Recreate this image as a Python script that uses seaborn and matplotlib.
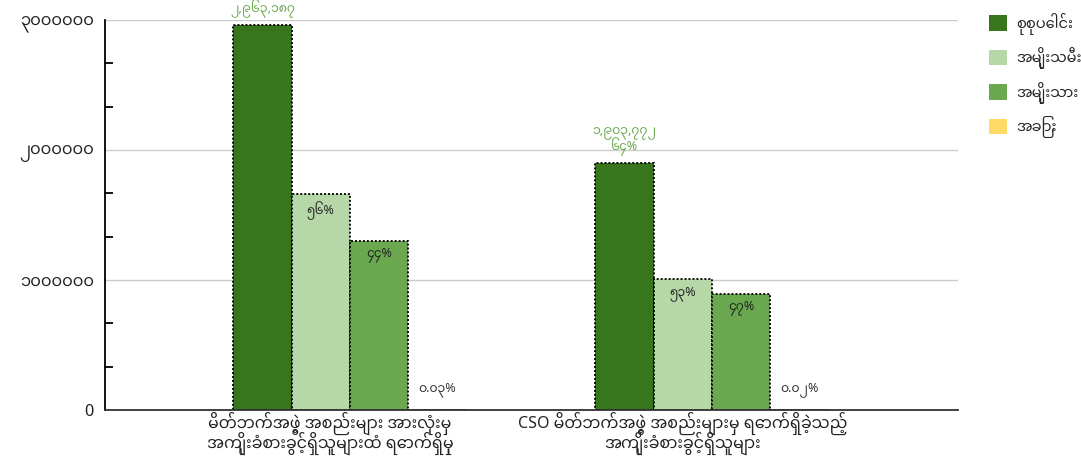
import matplotlib
matplotlib.use("Agg")
import matplotlib.pyplot as plt
import seaborn as sns
import pandas as pd
from matplotlib.ticker import MultipleLocator
from matplotlib.patches import Patch

categories = ["မိတ်ဘက်အဖွဲ့ အစည်းများ အားလုံးမှ\nအကျိုးခံစားခွင့်ရှိသူများထံ ရောက်ရှိမှု",
              "CSO မိတ်ဘက်အဖွဲ့ အစည်းများမှ ရောက်ရှိခဲ့သည့်\nအကျိုးခံစားခွင့်ရှိသူများ"]
series = ["စုစုပေါင်း", "အမျိုးသမီး", "အမျိုးသား", "အခြား"]
total = [2963187, 1903772]
women = [1658900, 1008700]
men = [1303400, 894700]
other = [887, 372]
total_labels = ["၂,၉၆၃,၁၈၇", "၁,၉၀၃,၇၇၂\n၆၄%"]
women_labels = ["၅၆%", "၅၃%"]
men_labels = ["၄၄%", "၄၇%"]
other_labels = ["၀.၀၃%", "၀.၀၂%"]
ytick_values = [0, 1000000, 2000000, 3000000]
ytick_labels = ["0", "၁၀၀၀၀၀၀", "၂၀၀၀၀၀၀", "၃၀၀၀၀၀၀"]
colors = ["#38761d", "#b6d7a8", "#6aa84f", "#ffd966"]

sns.set_theme(style="white")
plt.rcParams["font.family"] = ["Noto Sans Myanmar", "Noto Sans", "DejaVu Sans"]

rows = []
for i, c in enumerate(categories):
    for s, v in zip(series, [total[i], women[i], men[i], other[i]]):
        rows.append({"cat": c, "series": s, "value": v})
df = pd.DataFrame(rows)

fig = plt.figure(figsize=(10.81, 4.72), dpi=100)
ax = fig.add_axes([105/1081, 1-410/472, (958-105)/1081, (410-20)/472])
sns.barplot(data=df, x="cat", y="value", hue="series", palette=colors, width=0.645,
            saturation=1, ax=ax, legend=False, edgecolor="black", linewidth=1.3,
            linestyle=(0, (1.1, 1.1)))
ax.set_xlim(-0.677, 1.68)
ax.set_ylim(0, 3000000)
ax.set_yticks(ytick_values)
ax.set_yticklabels(ytick_labels, fontsize=11.8, color="#222222")
ax.yaxis.set_minor_locator(MultipleLocator(1000000/3))
ax.tick_params(axis="y", which="major", direction="in", length=12, width=1.3, color="black", pad=8)
ax.tick_params(axis="y", which="minor", direction="in", length=6, width=1.3, color="black", left=True)
ax.set_xticks([-0.055, 0.92], labels=categories)
ax.tick_params(axis="x", length=0, labelsize=11.5, labelcolor="#222222", pad=1)
for t in ax.get_xticklabels():
    t.set_linespacing(0.8)
ax.set_xlabel("")
ax.set_ylabel("")
ax.grid(axis="y", which="major", color="#cccccc", linewidth=1)
ax.set_axisbelow(True)
for sp in ["top", "right"]:
    ax.spines[sp].set_visible(False)
ax.spines["left"].set_color("black")
ax.spines["left"].set_linewidth(1.3)
ax.spines["bottom"].set_color("#333333")
ax.spines["bottom"].set_linewidth(1.3)

bw = 0.645 / 4
for i in range(2):
    xs = [i - 1.5*bw, i - 0.5*bw, i + 0.5*bw, i + 1.5*bw]
    ax.annotate(total_labels[i], (xs[0], total[i]), xytext=(0, 5), textcoords="offset points",
                ha="center", va="bottom", fontsize=9, color="#6aa84f", linespacing=0.75)
    ax.annotate(women_labels[i], (xs[1], women[i]), xytext=(0, -5), textcoords="offset points",
                ha="center", va="top", fontsize=9, color="#222222")
    ax.annotate(men_labels[i], (xs[2], men[i]), xytext=(0, -5), textcoords="offset points",
                ha="center", va="top", fontsize=9, color="#222222")
    ax.annotate(other_labels[i], (xs[3], other[i]), xytext=(0, 9), textcoords="offset points",
                ha="center", va="bottom", fontsize=9, color="#333333")

handles = [Patch(facecolor=c, edgecolor="none") for c in colors]
fig.legend(handles, series, loc="upper left", bbox_to_anchor=(0.903, 1.0), frameon=False,
           handlelength=1.25, handleheight=1.25, fontsize=10.5, labelspacing=0.85, handletextpad=0.6)

fig.savefig("out.png", dpi=100)
